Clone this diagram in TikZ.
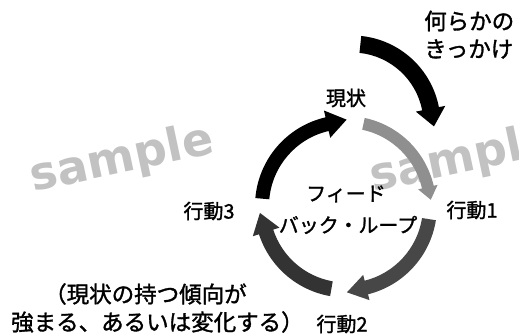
\documentclass[tikz,border=0pt]{standalone}
\usepackage{fontspec}
\newfontfamily\jpfont{Noto Sans CJK JP}[FakeBold=1.4]
\newfontfamily\wmfont{DejaVu Sans}
\usetikzlibrary{calc}
\definecolor{wmgray}{gray}{0.76}
\newcommand\cyclearrow[8]{%
  \pgfmathsetmacro\myri{#2-#3}\pgfmathsetmacro\myro{#2+#3}%
  \pgfmathsetmacro\myhi{#2-#6}\pgfmathsetmacro\myho{#2+#6}%
  \pgfmathsetmacro\myta{#5+90}%
  \path[#8] ($(#1)+(#4:\myri)$) arc[start angle=#4, end angle=#5, radius=\myri]
    -- ($(#1)+(#5:\myhi)$) -- ($(#1)+(#5:#2)+(\myta:#7)$) -- ($(#1)+(#5:\myho)$)
    -- ($(#1)+(#5:\myro)$) arc[start angle=#5, end angle=#4, radius=\myro] -- cycle;
}
\tikzset{
  lbl/.style={inner sep=0pt, font=\jpfont\fontsize{20}{24}\selectfont},
  note/.style={inner sep=0pt, anchor=west, font=\jpfont\fontsize{22.5}{26}\selectfont},
  wmark/.style={inner sep=0pt, text=wmgray, rotate=12, font=\wmfont\bfseries\fontsize{46}{50}\selectfont},
  solidarc/.style={fill=black},
  lightarc/.style={fill=black!44},
  darkarcA/.style={fill=black!72},
  darkarcB/.style={fill=black!80}
}
\begin{document}
\begin{tikzpicture}[x=1pt,y=-1pt]
\useasboundingbox (0,0) rectangle (519,336);
\fill[white] (0,0) rectangle (519,336);
\begin{scope}
  \clip (0,0) rectangle (519,336);
  \node[wmark] (wm1) at (122,160) {sample};
  \node[wmark] (wm2) at (462,160) {sample};
\end{scope}
\coordinate (C) at (346,206);
\coordinate (D) at (352,124);
% outer trigger arrow
\cyclearrow{D}{80}{8.5}{276}{349}{15}{18}{solidarc}
% feedback loop
\cyclearrow{C}{84}{7}{185}{257}{14}{20}{solidarc}
\cyclearrow{C}{84}{6}{282}{347}{10}{13}{lightarc}
\cyclearrow{C}{84}{7}{369}{436}{13}{20}{darkarcA}
\cyclearrow{C}{84}{7.5}{100}{162}{14}{20}{darkarcB}
% labels
\node[lbl] (genjo) at (346,98) {現状};
\node[lbl] (kodo1) at (472,210) {行動1};
\node[lbl] (kodo2) at (342,324) {行動2};
\node[lbl] (kodo3) at (209,211) {行動3};
\node[lbl] (fb1) at (346,194) {フィード};
\node[lbl] (fb2) at (348,225) {バック・ループ};
\node[note] (trig1) at (424,21) {何らかの};
\node[note] (trig2) at (424,49) {きっかけ};
\node[note] (n1) at (44,294) {（現状の持つ傾向が};
\node[note] (n2) at (11,322) {強まる、あるいは変化する）};
\end{tikzpicture}
\end{document}
